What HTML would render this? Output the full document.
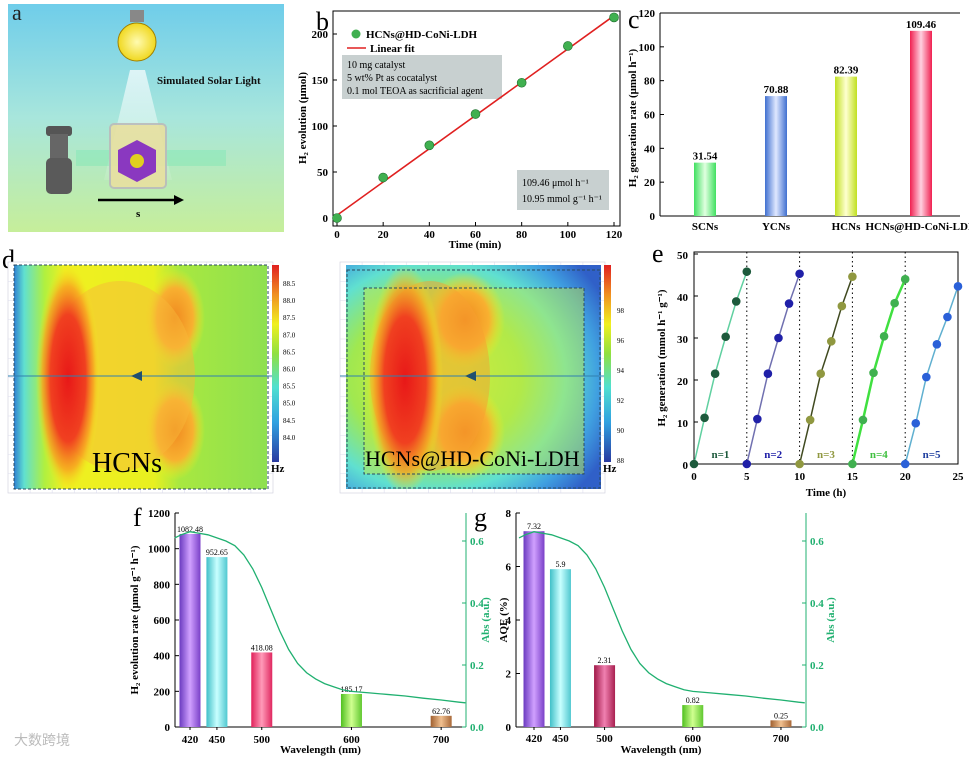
<!DOCTYPE html>
<html><head><meta charset="utf-8"><style>
body{margin:0;background:#fff;width:969px;height:757px;overflow:hidden}
svg{display:block;font-family:"Liberation Serif",serif}
.t{font-weight:bold;font-size:11px}
</style></head><body>
<svg id="fig" width="969" height="757" viewBox="0 0 969 757" xmlns="http://www.w3.org/2000/svg">
<defs>
<linearGradient id="sky" x1="0" y1="0" x2="0" y2="1"><stop offset="0" stop-color="#6fcdea"/><stop offset="0.5" stop-color="#a8e6dc"/><stop offset="1" stop-color="#c6ee9a"/></linearGradient>
<radialGradient id="bulb"><stop offset="0" stop-color="#fffbb0"/><stop offset="1" stop-color="#f0d820"/></radialGradient>
<linearGradient id="beam" x1="0" y1="0" x2="0" y2="1"><stop offset="0" stop-color="#ffffff" stop-opacity="0.7"/><stop offset="1" stop-color="#ffffff" stop-opacity="0.1"/></linearGradient>
<linearGradient id="cb" x1="0" y1="1" x2="0" y2="0"><stop offset="0" stop-color="#2a3aa0"/><stop offset="0.2" stop-color="#30a0e0"/><stop offset="0.38" stop-color="#50e0d0"/><stop offset="0.55" stop-color="#90e040"/><stop offset="0.7" stop-color="#f0f020"/><stop offset="0.85" stop-color="#f09020"/><stop offset="1" stop-color="#e02020"/></linearGradient>
<linearGradient id="gPur" x1="0" x2="1"><stop offset="0" stop-color="#6a3ac0"/><stop offset="0.5" stop-color="#d0a0ff"/><stop offset="1" stop-color="#7a40c8"/></linearGradient>
<linearGradient id="gCya" x1="0" x2="1"><stop offset="0" stop-color="#40c0c8"/><stop offset="0.5" stop-color="#c8ffff"/><stop offset="1" stop-color="#50c8d0"/></linearGradient>
<linearGradient id="gRed" x1="0" x2="1"><stop offset="0" stop-color="#e0205a"/><stop offset="0.5" stop-color="#ff9ab8"/><stop offset="1" stop-color="#e02860"/></linearGradient>
<linearGradient id="gRed2" x1="0" x2="1"><stop offset="0" stop-color="#a01848"/><stop offset="0.5" stop-color="#f080b0"/><stop offset="1" stop-color="#a82050"/></linearGradient>
<linearGradient id="gGrn" x1="0" x2="1"><stop offset="0" stop-color="#50c020"/><stop offset="0.5" stop-color="#d0ff90"/><stop offset="1" stop-color="#60c830"/></linearGradient>
<linearGradient id="gBrn" x1="0" x2="1"><stop offset="0" stop-color="#a06030"/><stop offset="0.5" stop-color="#f0c090"/><stop offset="1" stop-color="#a86838"/></linearGradient>
<linearGradient id="cG" x1="0" x2="1"><stop offset="0" stop-color="#40e060"/><stop offset="0.5" stop-color="#e0ffe0"/><stop offset="1" stop-color="#40e060"/></linearGradient>
<linearGradient id="cB" x1="0" x2="1"><stop offset="0" stop-color="#4070d0"/><stop offset="0.5" stop-color="#e0e8ff"/><stop offset="1" stop-color="#4070d0"/></linearGradient>
<linearGradient id="cY" x1="0" x2="1"><stop offset="0" stop-color="#c0e020"/><stop offset="0.5" stop-color="#ffffd0"/><stop offset="1" stop-color="#c0e020"/></linearGradient>
<linearGradient id="cR" x1="0" x2="1"><stop offset="0" stop-color="#f02050"/><stop offset="0.5" stop-color="#ffd0e0"/><stop offset="1" stop-color="#f02050"/></linearGradient>
<radialGradient id="hmRed" cx="0.5" cy="0.5" r="0.5"><stop offset="0" stop-color="#e81818"/><stop offset="0.55" stop-color="#f04020"/><stop offset="0.8" stop-color="#f8a020" stop-opacity="0.8"/><stop offset="1" stop-color="#f0f020" stop-opacity="0"/></radialGradient>
<radialGradient id="hmOr" cx="0.5" cy="0.5" r="0.5"><stop offset="0" stop-color="#f08a20"/><stop offset="0.6" stop-color="#f8b030"/><stop offset="1" stop-color="#f0f020" stop-opacity="0"/></radialGradient>
<linearGradient id="hmL" x1="0" x2="1"><stop offset="0" stop-color="#3080d0"/><stop offset="0.04" stop-color="#60e0d0"/><stop offset="0.12" stop-color="#b0f040"/><stop offset="0.2" stop-color="#f0f020"/><stop offset="0.55" stop-color="#e8f020"/><stop offset="0.65" stop-color="#a8e840"/><stop offset="1" stop-color="#8ee050"/></linearGradient>
<radialGradient id="hmR" cx="0.35" cy="0.5" r="0.75"><stop offset="0" stop-color="#e0f030"/><stop offset="0.45" stop-color="#a0e850"/><stop offset="0.68" stop-color="#60e0d0"/><stop offset="0.85" stop-color="#40a0e0"/><stop offset="1" stop-color="#3060c8"/></radialGradient>
<clipPath id="clipL"><rect x="12" y="262" width="255" height="227"/></clipPath>
<clipPath id="clipR"><rect x="346" y="262" width="255" height="227"/></clipPath>
</defs>

<!-- Panel a -->
<g>
<rect x="8" y="4" width="276" height="228" fill="url(#sky)"/>
<text x="12" y="20" font-size="22" fill="#222">a</text>
<polygon points="130,70 145,70 172,180 104,180" fill="url(#beam)"/>
<rect x="130" y="10" width="14" height="12" fill="#888"/>
<circle cx="137" cy="42" r="19" fill="url(#bulb)" stroke="#a08000" stroke-width="1"/>
<text x="157" y="84" class="t" font-size="11" fill="#111">Simulated Solar Light</text>
<rect x="46" y="126" width="26" height="10" rx="3" fill="#555"/>
<rect x="50" y="134" width="18" height="26" fill="#666"/>
<rect x="46" y="158" width="26" height="36" rx="5" fill="#5a5a5a"/>
<rect x="76" y="150" width="150" height="16" fill="#6de8b0" opacity="0.35"/>
<rect x="110" y="124" width="56" height="64" rx="4" fill="#e8e0a0" stroke="#bbb" stroke-width="2" opacity="0.9"/>
<polygon points="137,140 156,150 156,172 137,182 118,172 118,150" fill="#8a38c0"/>
<circle cx="137" cy="161" r="7" fill="#e0d020"/>
<line x1="98" y1="200" x2="178" y2="200" stroke="#000" stroke-width="2.5"/>
<polygon points="184,200 174,195 174,205" fill="#000"/>
<text x="136" y="217" class="t" font-size="14">s</text>
</g>

<g id="charts"></g>
<text x="14" y="745" font-size="14" fill="#bbb" font-family="'Liberation Sans','Noto Sans CJK SC',sans-serif">大数跨境</text>
</svg>
<script>
const NS="http://www.w3.org/2000/svg";
const root=document.getElementById('charts');
function el(tag,at,parent){const e=document.createElementNS(NS,tag);for(const k in at)e.setAttribute(k,at[k]);(parent||root).appendChild(e);return e;}
function tx(x,y,s,at,parent){const e=el('text',Object.assign({x:x,y:y},at||{}),parent);e.textContent=s;return e;}

// ===== Data =====
const bTimes=[0,20,40,60,80,100,120];
const bValues=[0,44,79,113,147,187,218];
const bFit=[3,219.9];
const bXTicks=[0,20,40,60,80,100,120];
const bYTicks=[0,50,100,150,200];

const cCats=["SCNs","YCNs","HCNs","HCNs@HD-CoNi-LDH"];
const cValues=[31.54,70.88,82.39,109.46];
const cYTicks=[0,20,40,60,80,100,120];

const eCycles=["n=1","n=2","n=3","n=4","n=5"];
const eHours=[0,1,2,3,4,5];
const eValues=[[0,11,21.5,30.3,38.7,45.8],[0,10.7,21.5,30,38.2,45.3],[0,10.5,21.5,29.2,37.6,44.6],[0,10.5,21.7,30.4,38.3,44],[0,9.7,20.7,28.5,35,42.3]];
const eXTicks=[0,5,10,15,20,25];
const eYTicks=[0,10,20,30,40,50];

const wl=[420,450,500,600,700];
const fValues=[1082.48,952.65,418.08,185.17,62.76];
const fLabels=["1082.48","952.65","418.08","185.17","62.76"];
const fYTicks=[0,200,400,600,800,1000,1200];
const gValues=[7.32,5.9,2.31,0.82,0.25];
const gLabels=["7.32","5.9","2.31","0.82","0.25"];
const gYTicks=[0,2,4,6,8];
const absWl=[403,410,420,430,440,450,460,470,480,490,500,510,520,530,540,550,560,570,580,590,600,620,640,660,680,700,720,727];
const absVal=[0.61,0.62,0.63,0.625,0.62,0.61,0.60,0.585,0.555,0.51,0.45,0.38,0.31,0.25,0.205,0.175,0.155,0.14,0.13,0.12,0.115,0.11,0.105,0.1,0.093,0.087,0.08,0.078];
const absTicks=[0,0.2,0.4,0.6];
const cbLeftTicks=["88.5","88.0","87.5","87.0","86.5","86.0","85.5","85.0","84.5","84.0"];
const cbRightTicks=["98","96","94","92","90","88"];

// ===== Panel b =====
(function(){
const g=el('g',{});


const X0=333,X1=620,Y0=226,Y1=11;
const xs=v=>337+(v/120)*277, ys=v=>218-(v/200)*184;
el('rect',{x:X0,y:Y1,width:X1-X0,height:Y0-Y1,fill:'none',stroke:'#000','stroke-width':1},g);
tx(316,30,'b',{'font-size':26},g);
bXTicks.forEach(t=>{el('line',{x1:xs(t),y1:Y0,x2:xs(t),y2:Y0-4,stroke:'#000'},g);tx(xs(t),238,String(t),{'text-anchor':'middle',class:'t'},g);});
bYTicks.forEach(t=>{el('line',{x1:X0,y1:ys(t),x2:X0+4,y2:ys(t),stroke:'#000'},g);tx(328,ys(t)+4,String(t),{'text-anchor':'end',class:'t'},g);});
const xt=tx(475,248,'Time (min)',{'text-anchor':'middle',class:'t'},g);

const yt=tx(0,0,'H₂ evolution (μmol)',{transform:'translate(306,118) rotate(-90)','text-anchor':'middle',class:'t'},g);

const box1=el('rect',{x:342,y:55,width:160,height:44,fill:'#c8d0d0'},g);

['10 mg catalyst','5 wt% Pt as cocatalyst','0.1 mol TEOA as sacrificial agent'].forEach((s,i)=>tx(347,68+i*13,s,{'font-size':10},g));
el('rect',{x:517,y:170,width:92,height:40,fill:'#c8d0d0'},g);
tx(522,186,'109.46 μmol h⁻¹',{'font-size':10},g);
tx(522,202,'10.95 mmol g⁻¹ h⁻¹',{'font-size':10},g);
const fit=el('line',{x1:xs(0),y1:ys(bFit[0]),x2:xs(120),y2:ys(bFit[1]),stroke:'#e02020','stroke-width':1.6},g);

bTimes.forEach((t,i)=>{const c=el('circle',{cx:xs(t),cy:ys(bValues[i]),r:4.5,fill:'#40b050',stroke:'#207030','stroke-width':0.6},g);

});
el('circle',{cx:356,cy:34,r:4.5,fill:'#40b050'},g);
tx(366,38,'HCNs@HD-CoNi-LDH',{class:'t','font-size':10},g);
el('line',{x1:347,y1:48,x2:366,y2:48,stroke:'#e02020','stroke-width':1.6},g);
tx(370,52,'Linear fit',{class:'t','font-size':10},g);
})();

// ===== Panel c =====
(function(){
const g=el('g',{});


const X0=660,X1=960,Y0=216,Y1=13;
const ys=v=>Y0-(v/120)*(Y0-Y1);
const cx=[705,776,846,921];
const fills=['url(#cG)','url(#cB)','url(#cY)','url(#cR)'];
tx(628,28,'c',{'font-size':26},g);
el('line',{x1:X0,y1:Y1,x2:X0,y2:Y0,stroke:'#000'},g);
el('line',{x1:X0,y1:Y0,x2:X1,y2:Y0,stroke:'#000'},g);
el('line',{x1:X0,y1:Y1,x2:X1,y2:Y1,stroke:'#000'},g);
cYTicks.forEach(t=>{el('line',{x1:X0,y1:ys(t),x2:X0+4,y2:ys(t),stroke:'#000'},g);tx(655,ys(t)+4,String(t),{'text-anchor':'end',class:'t'},g);});
const yt=tx(0,0,'H₂ generation rate (μmol h⁻¹)',{transform:'translate(636,118) rotate(-90)','text-anchor':'middle',class:'t'},g);

cCats.forEach((c,i)=>{
 const b=el('rect',{x:cx[i]-11,y:ys(cValues[i]),width:22,height:Y0-ys(cValues[i]),fill:fills[i]},g);
 
 
 tx(cx[i],ys(cValues[i])-3,cValues[i].toFixed(2),{'text-anchor':'middle',class:'t','font-size':10},g);
 tx(cx[i],230,c,{'text-anchor':'middle',class:'t','font-size':7},g);
});
})();

// ===== Panel d heatmaps =====
(function(){
const g=el('g',{});


tx(2,268,'d',{'font-size':26},g);
[[8,262,265,231],[340,262,265,231]].forEach(r=>{el('rect',{x:r[0],y:r[1],width:r[2],height:r[3],fill:'#fff',stroke:'#ccd',"stroke-width":0.6},g);
 for(let i=1;i<12;i++){el('line',{x1:r[0]+i*r[2]/12,y1:r[1],x2:r[0]+i*r[2]/12,y2:r[1]+r[3],stroke:'#dde','stroke-width':0.6},g);}
 for(let i=1;i<12;i++){el('line',{x1:r[0],y1:r[1]+i*r[3]/12,x2:r[0]+r[2],y2:r[1]+i*r[3]/12,stroke:'#dde','stroke-width':0.6},g);}
});
const gl=el('g',{'clip-path':'url(#clipL)'},g);
el('rect',{x:14,y:265,width:254,height:224,fill:'url(#hmL)'},gl);
el('ellipse',{cx:175,cy:318,rx:30,ry:50,fill:'url(#hmOr)'},gl);
el('ellipse',{cx:175,cy:430,rx:30,ry:50,fill:'url(#hmOr)'},gl);
el('ellipse',{cx:120,cy:376,rx:75,ry:95,fill:'#f8b838',opacity:0.5},gl);
el('ellipse',{cx:68,cy:378,rx:32,ry:115,fill:'url(#hmRed)'},gl);
el('rect',{x:14,y:265,width:254,height:224,fill:'none',stroke:'#2a4a60','stroke-dasharray':'3,2'},g);
el('line',{x1:8,y1:376,x2:273,y2:376,stroke:'#3080b0'},g);
el('polygon',{points:'131,376 142,371 142,381',fill:'#205070'},g);
const l1=tx(92,472,'HCNs',{'font-size':28},g);

const gr=el('g',{'clip-path':'url(#clipR)'},g);
el('rect',{x:346,y:265,width:255,height:224,fill:'url(#hmR)'},gr);
el('rect',{x:364,y:288,width:220,height:186,fill:'#c8ea40',opacity:0.45},gr);
el('ellipse',{cx:465,cy:320,rx:40,ry:48,fill:'url(#hmOr)'},gr);
el('ellipse',{cx:465,cy:432,rx:40,ry:48,fill:'url(#hmOr)'},gr);
el('ellipse',{cx:430,cy:376,rx:60,ry:95,fill:'#f8a030',opacity:0.5},gr);
el('ellipse',{cx:405,cy:380,rx:38,ry:115,fill:'url(#hmRed)'},gr);
el('rect',{x:347,y:270,width:253,height:218,fill:'none',stroke:'#2a4a60','stroke-dasharray':'3,2'},g);
el('rect',{x:364,y:288,width:220,height:186,fill:'none',stroke:'#2a4a60','stroke-dasharray':'3,2'},g);
el('line',{x1:340,y1:376,x2:605,y2:376,stroke:'#3080b0'},g);
el('polygon',{points:'465,376 476,371 476,381',fill:'#205070'},g);
const l2=tx(365,466,'HCNs@HD-CoNi-LDH',{'font-size':22},g);

const cb1=el('rect',{x:272,y:265,width:7,height:197,fill:'url(#cb)'},g);

cbLeftTicks.forEach((s,i)=>tx(283,286+i*17.1,s,{'font-size':7},g));
tx(271,472,'Hz',{'font-size':7,class:'t'},g);
const cb2=el('rect',{x:604,y:265,width:7,height:197,fill:'url(#cb)'},g);

cbRightTicks.forEach((s,i)=>tx(617,313+i*30,s,{'font-size':7},g));
tx(603,472,'Hz',{'font-size':7,class:'t'},g);
})();

// ===== Panel e =====
(function(){
const g=el('g',{});


const X0=694,X1=958,Y0=464,Y1=252;
const xs=v=>X0+(v/25)*(X1-X0), ys=v=>Y0-(v/50)*(Y0-254);
const lineC=['#60d0a0','#7070b0','#404a20','#40e040','#60b0d0'];
const dotC=['#1d5a3c','#2020a8','#909840','#40b050','#2a60d8'];
const txtC=['#1d5a3c','#2020a8','#909840','#40c040','#2040a0'];
tx(652,262,'e',{'font-size':26},g);
el('rect',{x:X0,y:Y1,width:X1-X0,height:Y0-Y1,fill:'none',stroke:'#000'},g);
eXTicks.forEach(t=>{el('line',{x1:xs(t),y1:Y0,x2:xs(t),y2:Y0-4,stroke:'#000'},g);tx(xs(t),480,String(t),{'text-anchor':'middle',class:'t','font-size':12},g);});
eYTicks.forEach(t=>{el('line',{x1:X0,y1:ys(t),x2:X0+4,y2:ys(t),stroke:'#000'},g);tx(688,ys(t)+5,String(t),{'text-anchor':'end',class:'t','font-size':12},g);});
[5,10,15,20].forEach(t=>el('line',{x1:xs(t),y1:Y1,x2:xs(t),y2:Y0,stroke:'#000','stroke-dasharray':'1.5,3'},g));
const xt=tx(826,496,'Time (h)',{'text-anchor':'middle',class:'t','font-size':13},g);

const yt=tx(0,0,'H₂ generation (mmol h⁻¹ g⁻¹)',{transform:'translate(665,358) rotate(-90)','text-anchor':'middle',class:'t','font-size':13},g);

eValues.forEach((ser,k)=>{
 const pts=ser.map((v,i)=>xs(k*5+eHours[i])+','+ys(v)).join(' ');
 const pl=el('polyline',{points:pts,fill:'none',stroke:lineC[k],'stroke-width':k==3?2.5:1.5},g);
 
 ser.forEach((v,i)=>{const c=el('circle',{cx:xs(k*5+eHours[i]),cy:ys(v),r:4.3,fill:dotC[k]},g);
  
  });
 tx(xs(k*5+2.5),458,eCycles[k],{'text-anchor':'middle',class:'t','font-size':11,fill:txtC[k]},g);
});
})();

// ===== Panels f & g =====
function wlPanel(opt){
const g=el('g',{});


const Y0=727,Y1=513;
const xs=w=>opt.x420+(w-420)*opt.k;
const ys=v=>Y0-(v/opt.max)*(Y0-Y1);
const ya=v=>Y0-(v/0.6)*(Y0-541);
tx(opt.L-42,526,opt.letter,{'font-size':26},g);
el('line',{x1:opt.L,y1:Y1,x2:opt.L,y2:Y0,stroke:'#000'},g);
el('line',{x1:opt.L,y1:Y0,x2:opt.R,y2:Y0,stroke:'#000'},g);
el('line',{x1:opt.R,y1:Y1,x2:opt.R,y2:Y0,stroke:'#20b070'},g);
opt.yt.forEach(t=>{el('line',{x1:opt.L,y1:ys(t),x2:opt.L+4,y2:ys(t),stroke:'#000'},g);tx(opt.L-5,ys(t)+4,String(t),{'text-anchor':'end',class:'t','font-size':10},g);});
absTicks.forEach(t=>{el('line',{x1:opt.R,y1:ya(t),x2:opt.R-4,y2:ya(t),stroke:'#20b070'},g);tx(opt.R+4,ya(t)+4,t.toFixed(1),{class:'t','font-size':9,fill:'#20b070'},g);});
wl.forEach(w=>{el('line',{x1:xs(w),y1:Y0,x2:xs(w),y2:Y0+3,stroke:'#000'},g);tx(xs(w),opt.letter=='f'?743:742,String(w),{'text-anchor':'middle',class:'t','font-size':opt.letter=='f'?12:9},g);});
const xt=tx((opt.L+opt.R)/2,753,'Wavelength (nm)',{'text-anchor':'middle',class:'t','font-size':10},g);

const yt=tx(0,0,opt.ylab,{transform:'translate('+opt.ylx+',620) rotate(-90)','text-anchor':'middle',class:'t','font-size':10},g);

const at=tx(0,0,'Abs (a.u.)',{transform:'translate('+(opt.R+opt.absOff)+',620) rotate(-90)','text-anchor':'middle',class:'t','font-size':10,fill:'#20b070'},g);

wl.forEach((w,i)=>{
 const b=el('rect',{x:xs(w)-10.5,y:ys(opt.vals[i]),width:21,height:Y0-ys(opt.vals[i]),fill:opt.fills[i]},g);
 
 
 tx(xs(w),ys(opt.vals[i])-2,opt.labels[i],{'text-anchor':'middle','font-size':8},g);
});
const pts=absWl.map((w,i)=>xs(w)+','+ya(absVal[i])).join(' ');
const p=el('polyline',{points:pts,fill:'none',stroke:'#20b070','stroke-width':1.3},g);

}
wlPanel({name:'panel-f-chart',letter:'f',L:175,R:466,x420:190,k:0.897,max:1200,yt:fYTicks,vals:fValues,labels:fLabels,absOff:23,
 fills:['url(#gPur)','url(#gCya)','url(#gRed)','url(#gGrn)','url(#gBrn)'],ylab:'H₂ evolution rate (μmol g⁻¹ h⁻¹)',ylx:138});
wlPanel({name:'panel-g-chart',letter:'g',L:516,R:806,x420:534,k:0.882,max:8,yt:gYTicks,vals:gValues,labels:gLabels,absOff:28,
 fills:['url(#gPur)','url(#gCya)','url(#gRed2)','url(#gGrn)','url(#gBrn)'],ylab:'AQE (%)',ylx:507});
</script>
</body></html>
